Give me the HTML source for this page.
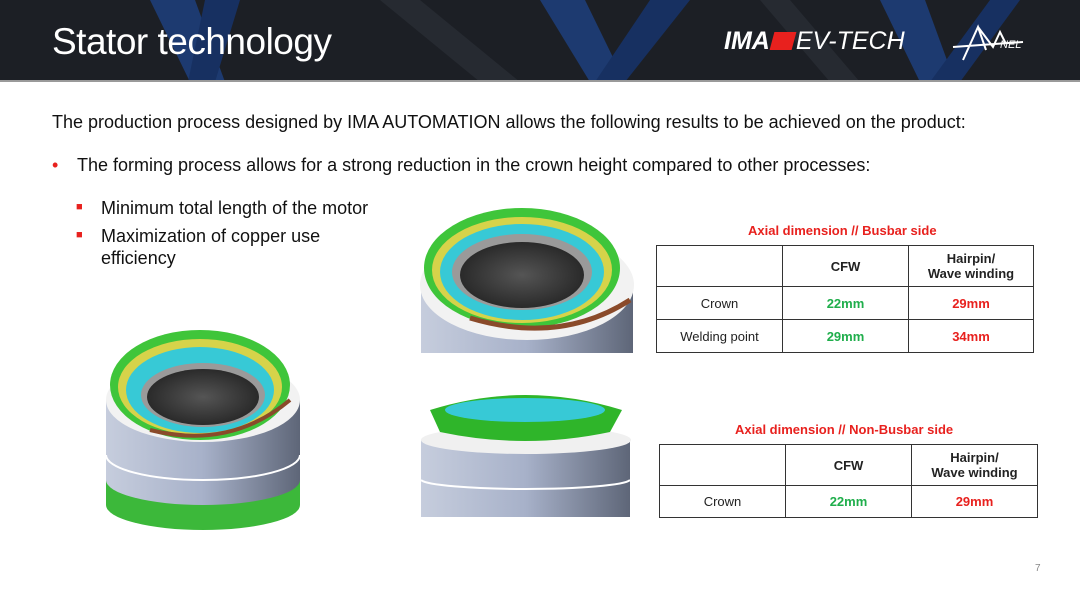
<!DOCTYPE html>
<html><head><meta charset="utf-8"><style>
*{margin:0;padding:0;box-sizing:border-box}
body{width:1080px;height:608px;background:#fff;font-family:"Liberation Sans",Arial,sans-serif;position:relative;overflow:hidden}
.hdr{position:absolute;left:0;top:0;width:1080px;height:82px;background:#1c1f25;overflow:hidden;border-bottom:2px solid #9a9a9a}
.t{position:absolute;font-size:18px;color:#111;white-space:nowrap}
table{position:absolute;border-collapse:collapse;font-size:13px}
td{border:1.5px solid #333;text-align:center;color:#222;line-height:15px}
.g{color:#1fae4b;font-weight:bold}.r{color:#e8211e;font-weight:bold}.b{font-weight:bold}
.cap{position:absolute;color:#e8211e;font-weight:bold;font-size:13px;white-space:nowrap}
</style></head><body>
<div class="hdr">
<svg width="1080" height="82" style="position:absolute;left:0;top:0">
<polygon points="150,0 195,0 225,82 190,82" fill="#1d3a70"/>
<polygon points="205,0 240,0 215,82 188,82" fill="#173061"/>
<polygon points="540,0 585,0 625,82 590,82" fill="#1d3a70"/>
<polygon points="650,0 690,0 625,82 595,82" fill="#173061"/>
<polygon points="880,0 925,0 955,82 920,82" fill="#1d3a70"/>
<polygon points="990,0 1020,0 960,82 930,82" fill="#173061"/>
<polygon points="380,0 420,0 520,82 480,82" fill="#262a31"/>
<polygon points="760,0 790,0 860,82 830,82" fill="#262a31"/>
</svg>
<div style="position:absolute;left:52px;top:21px;font-size:37px;color:#fff;letter-spacing:-0.5px">Stator technology</div>
<div style="position:absolute;left:724px;top:27px;font-size:25px;color:#fff;font-style:italic;white-space:nowrap"><b style="font-weight:900">IMA</b><span style="display:inline-block;width:22px;height:18px;background:#e8211e;transform:skewX(-15deg);margin:0 2px;vertical-align:-1px"></span>EV-TECH</div>
<div style="position:absolute;left:948px;top:22px;font-size:14px;color:#fff;font-style:italic">
<svg width="80" height="40"><path d="M5,25 L75,20 M15,38 L30,5 L38,28 M30,5 L45,25 L52,10 L58,22" stroke="#fff" stroke-width="2" fill="none"/><text x="52" y="26" fill="#fff" font-size="11" font-family="Liberation Sans">NEL</text></svg></div>
</div>
<div class="t" style="left:52px;top:112px">The production process designed by IMA AUTOMATION allows the following results to be achieved on the product:</div>
<div class="t" style="left:52px;top:155px"><span style="color:#e8211e;position:absolute;left:0">•</span><span style="position:absolute;left:25px">The forming process allows for a strong reduction in the crown height compared to other processes:</span></div>
<div class="t" style="left:76px;top:198px"><span style="color:#e8211e;font-size:11px;position:absolute;left:0;top:3px">■</span><span style="position:absolute;left:25px">Minimum total length of the motor</span></div>
<div class="t" style="left:76px;top:226px"><span style="color:#e8211e;font-size:11px;position:absolute;left:0;top:3px">■</span><span style="position:absolute;left:25px">Maximization of copper use</span></div>
<div class="t" style="left:101px;top:248px">efficiency</div>

<svg width="1080" height="608" style="position:absolute;left:0;top:0">
<defs>
<linearGradient id="cyl" x1="0" x2="1"><stop offset="0" stop-color="#c6cddd"/><stop offset="0.5" stop-color="#a7b1c9"/><stop offset="1" stop-color="#5e6678"/></linearGradient>
<radialGradient id="hole"><stop offset="0" stop-color="#555"/><stop offset="1" stop-color="#2a2a2a"/></radialGradient>
</defs>
<path d="M106,400 L106,505 A97,25 0 0 0 300,505 L300,400 Z" fill="#3cb83a"/>
<path d="M106,400 L106,480 A97,25 0 0 0 300,480 L300,400 Z" fill="url(#cyl)"/>
<path d="M106,455 A97,25 0 0 0 300,455" stroke="#fff" stroke-width="2" fill="none"/>
<ellipse cx="203" cy="400" rx="97" ry="42" fill="#f2f2f2"/>
<ellipse cx="200" cy="385" rx="90" ry="55" fill="#3fc53a"/>
<ellipse cx="200" cy="387" rx="82" ry="48" fill="#d6d34a"/>
<ellipse cx="200" cy="390" rx="74" ry="43" fill="#37c9d6"/>
<ellipse cx="203" cy="395" rx="62" ry="32" fill="#9a9a9a"/>
<ellipse cx="203" cy="397" rx="56" ry="28" fill="url(#hole)"/>
<path d="M150,430 Q230,450 290,400" stroke="#8a4a2a" stroke-width="4" fill="none"/>
<rect x="421" y="280" width="212" height="73" fill="url(#cyl)"/>
<ellipse cx="527" cy="285" rx="107" ry="55" fill="#f2f2f2"/>
<ellipse cx="522" cy="268" rx="98" ry="60" fill="#3fc53a"/>
<ellipse cx="522" cy="270" rx="90" ry="53" fill="#d6d34a"/>
<ellipse cx="522" cy="272" rx="82" ry="48" fill="#37c9d6"/>
<ellipse cx="522" cy="272" rx="70" ry="38" fill="#9a9a9a"/>
<ellipse cx="522" cy="275" rx="62" ry="33" fill="url(#hole)"/>
<path d="M470,318 Q560,345 630,300" stroke="#8a4a2a" stroke-width="5" fill="none"/>
<rect x="421" y="440" width="209" height="77" fill="url(#cyl)"/>
<path d="M421,480 A105,10 0 0 0 630,480" stroke="#fff" stroke-width="2" fill="none"/>
<ellipse cx="526" cy="440" rx="105" ry="14" fill="#f0f0f0"/>
<path d="M430,410 Q525,380 622,410 L610,432 Q525,450 440,432 Z" fill="#2fb52a"/>
<ellipse cx="525" cy="410" rx="80" ry="12" fill="#37c9d6"/>
</svg>

<div class="cap" style="left:748px;top:223px">Axial dimension // Busbar side</div>
<table style="left:656px;top:245px;width:378px">
<tr style="height:41px"><td style="width:126px"></td><td class="b" style="width:126px">CFW</td><td class="b">Hairpin/<br>Wave winding</td></tr>
<tr style="height:33px"><td>Crown</td><td class="g">22mm</td><td class="r">29mm</td></tr>
<tr style="height:33px"><td>Welding point</td><td class="g">29mm</td><td class="r">34mm</td></tr>
</table>
<div class="cap" style="left:735px;top:422px">Axial dimension // Non-Busbar side</div>
<table style="left:659px;top:444px;width:379px">
<tr style="height:41px"><td style="width:126px"></td><td class="b" style="width:126px">CFW</td><td class="b">Hairpin/<br>Wave winding</td></tr>
<tr style="height:32px"><td>Crown</td><td class="g">22mm</td><td class="r">29mm</td></tr>
</table>
<div style="position:absolute;left:1035px;top:563px;font-size:10px;color:#888">7</div>
</body></html>
